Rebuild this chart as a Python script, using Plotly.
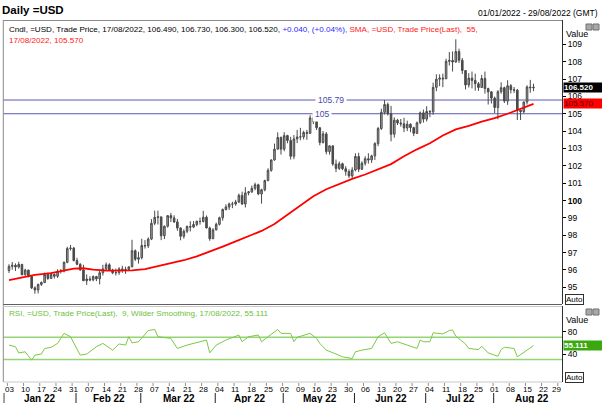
import plotly.graph_objects as go
import pandas as pd

W, H = 602, 403
def px(x): return x / W
def py(y): return 1 - y / H

# ---------------- data ----------------
dates = pd.bdate_range("2022-01-03", "2022-08-17")

opens = [95.97, 96.21, 96.27, 96.17, 96.32, 95.73, 95.99, 95.63, 94.97, 94.85,
         95.17, 95.28, 95.74, 95.51, 95.74, 95.64, 95.92, 95.94, 96.44, 97.23, 97.26,
         96.54, 96.33, 96.00, 95.38, 95.48, 95.43, 95.62, 95.49, 95.84, 96.06,
         96.30, 96.00, 95.84, 95.85, 96.06, 96.01, 96.03, 96.18, 97.11, 96.62,
         96.71, 97.41, 97.39, 97.78, 98.69, 99.03, 99.06, 97.97, 98.52, 99.13,
         99.00, 98.77, 98.42, 97.94, 98.23, 98.50, 98.47, 98.62, 98.80, 98.79,
         99.04, 98.42, 97.80,
         98.31, 98.63, 99.01, 99.48, 99.63, 99.80, 99.80, 99.92, 100.30, 99.80,
         100.44, 100.50, 100.70, 100.91, 100.38, 100.62, 101.15, 101.74, 102.34, 102.96, 103.63,
         102.96, 103.74, 103.46, 102.55, 103.55, 103.66, 103.67, 103.92, 103.87, 104.76,
         104.56, 104.19, 103.34, 103.84, 102.82, 103.15, 102.10, 101.85, 102.12, 101.83,
         101.67, 101.42,
         101.76, 102.54, 101.80, 102.15, 102.41, 102.34, 102.57, 103.28, 104.15, 105.08,
         105.53, 105.00, 103.82, 104.63, 104.47, 104.42, 104.18, 104.40, 104.20, 103.87,
         104.48, 105.05,
         104.69, 105.13, 105.11, 106.52, 106.99, 107.05, 107.01, 108.02, 108.07, 107.98,
         108.58, 108.08, 107.49, 106.66, 107.05, 106.92, 106.73, 106.51, 107.03, 106.45, 106.26,
         105.90, 105.36, 106.27, 106.50, 105.73, 106.61, 106.38, 106.36, 105.20, 105.12,
         105.68, 106.54, 106.49]
highs = [96.33, 96.46, 96.38, 96.47, 96.35, 96.07, 96.02, 95.70, 95.06, 95.21,
         95.34, 95.85, 95.85, 95.86, 95.80, 96.04, 96.05, 96.49, 97.34, 97.44, 97.33,
         96.70, 96.39, 96.30, 95.74, 95.64, 95.69, 95.66, 96.03, 96.30, 96.43,
         96.39, 96.07, 96.08, 96.16, 96.24, 96.19, 96.20, 97.74, 97.18, 97.05,
         97.80, 97.72, 97.88, 98.93, 99.42, 99.42, 99.06, 98.56, 99.16, 99.29,
         99.15, 98.94, 98.45, 98.34, 98.57, 98.81, 98.82, 98.85, 99.02, 99.41,
         99.14, 98.50, 98.41,
         98.73, 99.07, 99.54, 99.78, 99.88, 99.93, 100.04, 100.40, 100.51, 100.77,
         100.55, 100.86, 101.03, 100.97, 100.68, 101.20, 101.86, 102.36, 103.28, 103.93, 103.69,
         103.94, 103.79, 103.67, 103.77, 104.07, 104.19, 104.02, 104.07, 104.92, 105.01,
         104.72, 104.24, 104.00, 103.95, 103.17, 103.16, 102.36, 102.25, 102.18, 101.98,
         101.80, 101.92,
         102.72, 102.75, 102.26, 102.55, 102.72, 102.64, 103.36, 104.24, 105.29, 105.79,
         105.65, 105.45, 104.79, 104.70, 104.70, 104.77, 104.60, 104.44, 104.25, 104.55,
         105.13, 105.24,
         105.43, 105.21, 106.79, 107.27, 107.27, 107.31, 108.17, 108.56, 108.59, 109.29,
         108.75, 108.21, 107.52, 107.34, 107.43, 107.31, 106.83, 107.24, 107.43, 106.50, 106.31,
         105.99, 106.36, 106.81, 106.56, 106.93, 106.71, 106.54, 106.43, 105.22, 105.70,
         106.64, 106.95, 106.73]
lows = [95.83, 96.02, 95.94, 96.08, 95.69, 95.67, 95.57, 94.90, 94.63, 94.65,
        95.08, 95.24, 95.43, 95.48, 95.51, 95.54, 95.79, 95.86, 96.39, 97.12, 96.50,
        96.27, 95.95, 95.37, 95.14, 95.35, 95.35, 95.36, 95.17, 95.68, 95.96,
        95.94, 95.76, 95.68, 95.72, 95.84, 95.78, 95.97, 96.16, 96.52, 96.37,
        96.61, 97.23, 97.27, 97.72, 98.58, 98.62, 97.72, 97.78, 98.44, 98.76,
        98.71, 98.26, 97.71, 97.80, 98.12, 98.22, 98.41, 98.52, 98.61, 98.74,
        98.40, 97.68, 97.79,
        98.28, 98.56, 98.84, 99.43, 99.46, 99.56, 99.70, 99.85, 99.75, 99.60,
        100.30, 100.44, 100.59, 100.31, 99.82, 100.53, 101.11, 101.66, 102.29, 102.95, 102.65,
        102.84, 103.30, 102.36, 102.38, 103.31, 103.47, 103.52, 103.50, 103.85, 104.40,
        104.06, 103.18, 103.29, 102.66, 102.65, 102.00, 101.64, 101.76, 101.75, 101.43,
        101.30, 101.29,
        101.68, 101.64, 101.76, 102.01, 102.13, 102.17, 102.34, 103.13, 104.07, 104.96,
        104.90, 103.41, 103.62, 104.35, 104.26, 103.94, 104.00, 103.94, 103.71, 103.83,
        104.40, 104.49,
        104.56, 104.80, 104.94, 106.30, 106.59, 106.53, 107.01, 107.78, 107.43, 107.94,
        107.92, 107.29, 106.40, 106.51, 106.46, 106.33, 106.32, 106.50, 106.16, 105.53, 105.59,
        105.04, 104.68, 106.15, 105.62, 105.51, 106.17, 106.20, 104.64, 104.64, 105.02,
        105.53, 106.21, 106.30]
closes = [96.21, 96.27, 96.17, 96.32, 95.73, 95.99, 95.63, 94.97, 94.85, 95.17,
          95.28, 95.74, 95.51, 95.74, 95.64, 95.92, 95.94, 96.44, 97.23, 97.26, 96.54,
          96.33, 96.00, 95.38, 95.48, 95.43, 95.62, 95.49, 95.84, 96.06, 96.30,
          96.00, 95.84, 95.85, 96.06, 96.01, 96.03, 96.18, 97.11, 96.62, 96.71,
          97.41, 97.39, 97.78, 98.69, 99.03, 99.06, 97.97, 98.52, 99.13, 99.00,
          98.77, 98.42, 97.94, 98.23, 98.50, 98.47, 98.62, 98.80, 98.79, 99.04,
          98.42, 97.80, 98.31,
          98.63, 99.01, 99.48, 99.63, 99.80, 99.80, 99.92, 100.30, 99.80, 100.44,
          100.50, 100.70, 100.91, 100.38, 100.62, 101.15, 101.74, 102.34, 102.96, 103.63, 102.96,
          103.74, 103.46, 102.55, 103.55, 103.66, 103.67, 103.92, 103.87, 104.76, 104.56,
          104.19, 103.34, 103.84, 102.82, 103.15, 102.10, 101.85, 102.12, 101.83, 101.67,
          101.42, 101.76,
          102.54, 101.80, 102.15, 102.41, 102.34, 102.57, 103.28, 104.15, 105.08, 105.53,
          105.00, 103.82, 104.63, 104.47, 104.42, 104.18, 104.40, 104.20, 103.87, 104.48,
          105.05, 104.69,
          105.13, 105.11, 106.52, 106.99, 107.05, 107.01, 108.02, 108.07, 107.98, 108.58,
          108.08, 107.49, 106.66, 107.05, 106.92, 106.73, 106.51, 107.03, 106.45, 106.26, 105.90,
          105.36, 106.27, 106.50, 105.73, 106.61, 106.38, 106.36, 105.20, 105.12, 105.68,
          106.54, 106.50, 106.52]

# SMA(55) (trading-day index, value)
sma_idx = [0, 4, 8, 13, 17, 20, 23, 26, 30, 34, 38, 42, 46, 50, 54, 58, 62, 66, 70, 74,
           78, 82, 86, 90, 94, 98, 102, 106, 110, 114, 118, 122, 126, 130, 134, 138, 142,
           146, 150, 154, 158, 160, 162]
sma_val = [95.42, 95.55, 95.72, 95.82, 95.98, 96.08, 96.10, 96.02, 95.96, 95.97, 95.98,
           96.05, 96.22, 96.40, 96.56, 96.78, 97.05, 97.35, 97.65, 97.95, 98.25, 98.65,
           99.20, 99.75, 100.25, 100.65, 100.95, 101.25, 101.50, 101.80, 102.10, 102.55,
           102.95, 103.30, 103.75, 104.10, 104.30, 104.55, 104.75, 105.00, 105.30, 105.45,
           105.57]

# RSI(9)
rsi_idx = [0, 2, 3, 5, 7, 8, 10, 11, 13, 15, 17, 19, 22, 24, 27, 29, 32, 34, 36, 37, 38,
           40, 43, 45, 46, 48, 50, 52, 55, 59, 61, 62, 64, 67, 69, 71, 72, 74, 77, 78, 80,
           83, 84, 87, 88, 89, 93, 95, 96, 98, 101, 103, 106, 107, 109, 112, 114, 116, 118,
           120, 123, 126, 127, 128, 130, 131, 134, 136, 137, 138, 141, 142, 145, 146, 148,
           151, 152, 153, 156, 157, 160, 162]
rsi_val = [56, 53, 42, 44, 29, 38, 40, 50, 52, 59, 77, 71, 38, 40, 53, 59, 47, 58, 56, 71,
           60, 62, 82, 84, 71, 70, 68, 50, 56, 62, 65, 42, 56, 65, 70, 74, 62, 71, 74, 62,
           71, 84, 77, 77, 62, 70, 77, 68, 59, 47, 40, 35, 32, 44, 47, 50, 71, 78, 59, 62,
           56, 50, 65, 62, 62, 78, 76, 82, 83, 72, 58, 50, 48, 54, 42, 36, 48, 52, 50, 35,
           47, 55.111]

levels = [105.79, 105.0]
level_labels = ["105.79", "105"]
level_label_pos = [99.6, 96.8]
rsi_bands = [70, 30]
price_ticks = list(range(95, 110))
rsi_ticks = [40, 80]
month_names = ["Jan 22", "Feb 22", "Mar 22", "Apr 22", "May 22", "Jun 22", "Jul 22", "Aug 22"]

# ---------------- figure ----------------
n = min(len(dates), len(opens), len(highs), len(lows), len(closes))
idx = list(range(n))
axis_days = pd.bdate_range("2022-01-03", "2022-08-31")
mondays = [i for i, d in enumerate(axis_days) if d.weekday() == 0]
monday_txt = ["%02d" % axis_days[i].day for i in mondays]
month_starts = [i for i, d in enumerate(axis_days) if i == 0 or d.month != axis_days[i - 1].month]
month_starts_end = month_starts[1:] + [len(axis_days)]

XR = [-1.76, 170.8]
FONT = "Arial, Liberation Sans, sans-serif"

fig = go.Figure()
fig.add_trace(go.Candlestick(
    x=idx, open=opens[:n], high=highs[:n], low=lows[:n], close=closes[:n],
    increasing=dict(line=dict(color="#4a4a4a", width=1), fillcolor="#a4a4a4"),
    decreasing=dict(line=dict(color="#4a4a4a", width=1), fillcolor="#4a4a4a"),
    whiskerwidth=0, hoverinfo="skip", xaxis="x", yaxis="y"))
fig.add_trace(go.Scatter(x=sma_idx, y=sma_val, mode="lines",
                         line=dict(color="#ff0000", width=1.8), xaxis="x", yaxis="y",
                         hoverinfo="skip"))
fig.add_trace(go.Scatter(x=rsi_idx, y=rsi_val, mode="lines",
                         line=dict(color="#7cc843", width=1), xaxis="x2", yaxis="y2",
                         hoverinfo="skip"))

shapes = []
for lv in levels:
    shapes.append(dict(type="line", xref="x domain", yref="y", x0=0, x1=1, y0=lv, y1=lv,
                       line=dict(color="#5a5ab0", width=1), layer="below"))
for b in rsi_bands:
    shapes.append(dict(type="line", xref="x2 domain", yref="y2", x0=0, x1=1, y0=b, y1=b,
                       line=dict(color="#96d478", width=1.5), layer="below"))
# panel frame
frame = "#8a8a8a"
shapes += [
    dict(type="line", xref="paper", yref="paper", x0=px(3.3), x1=px(3.3), y0=py(20), y1=py(382),
         line=dict(color=frame, width=1)),
    dict(type="line", xref="paper", yref="paper", x0=px(3.3), x1=px(562), y0=py(20.5), y1=py(20.5),
         line=dict(color=frame, width=1)),
    dict(type="line", xref="paper", yref="paper", x0=px(3.3), x1=px(562), y0=py(304.5), y1=py(304.5),
         line=dict(color="#606060", width=1)),
    dict(type="line", xref="paper", yref="paper", x0=px(3.3), x1=px(562), y0=py(306.5), y1=py(306.5),
         line=dict(color="#c8c8c8", width=1)),
    dict(type="line", xref="paper", yref="paper", x0=px(3.3), x1=px(562), y0=py(382), y1=py(382),
         line=dict(color="#c8c8c8", width=1)),
]
# panel control icons
for yy in (24, 309):
    for xx in (586, 593):
        shapes.append(dict(type="rect", xref="paper", yref="paper", x0=px(xx), x1=px(xx + 6),
                           y0=py(yy), y1=py(yy + 6), line=dict(color="#707070", width=1),
                           fillcolor="#a8a8a8"))
# month separators
for k, ms in enumerate(month_starts):
    xv = XR[0] + 0.2 if k == 0 else ms - 0.3
    shapes.append(dict(type="line", xref="x2", yref="paper", x0=xv, x1=xv, y0=py(393), y1=py(403),
                       line=dict(color="#202020", width=1)))
# day tick marks
for i in mondays:
    shapes.append(dict(type="line", xref="x2", yref="paper", x0=i - 0.5, x1=i - 0.5,
                       y0=py(383), y1=py(386), line=dict(color="#909090", width=1)))

ann = []
def text(x, y, s, size=8, color="black", xanchor="left", bold=False, **kw):
    if bold:
        s = "<b>" + s + "</b>"
    d = dict(x=px(x), y=py(y), xref="paper", yref="paper", text=s, showarrow=False,
             xanchor=xanchor, yanchor="middle", font=dict(size=size, color=color, family=FONT))
    d.update(kw)
    ann.append(d)

text(0, 10, "Daily =USD", size=11.5, bold=True)
text(600, 13, "01/01/2022 - 29/08/2022 (GMT)", size=8.5, xanchor="right")
text(7, 29,
     "Cndl, =USD, Trade Price, 17/08/2022, 106.490, 106.730, 106.300, 106.520, "
     "<span style='color:#2a2aff'>+0.040, (+0.04%),</span>"
     "<span style='color:#ff2020'> SMA, =USD, Trade Price(Last),  55,</span>", size=8.1)
text(7, 40, "17/08/2022, 105.570", size=8.1, color="#ff2020")
text(7, 313, "RSI, =USD, Trade Price(Last),  9, Wilder Smoothing, 17/08/2022, 55.111",
     size=8.1, color="#6cbf3a")
text(564, 34, "Value", size=9)
text(564, 320, "Value", size=9)
text(565, 299, "Auto", size=8, bordercolor="#303030", borderwidth=1, borderpad=0, bgcolor="white")
text(565, 377, "Auto", size=8, bordercolor="#303030", borderwidth=1, borderpad=0, bgcolor="white")

# day labels
for k, (i, t) in enumerate(zip(mondays, monday_txt)):
    if k == len(mondays) - 1:
        ann.append(dict(x=px(556), y=py(389), xref="paper", yref="paper", text=t, showarrow=False,
                        xanchor="center", yanchor="middle",
                        font=dict(size=8, color="black", family=FONT)))
    else:
        ann.append(dict(x=i, y=py(389), xref="x2", yref="paper", text=t, showarrow=False,
                        xanchor="center", yanchor="middle",
                        font=dict(size=8, color="black", family=FONT)))

# level labels
for lv, lab, pos in zip(levels, level_labels, level_label_pos):
    ann.append(dict(x=pos, y=lv, xref="x", yref="y", text=lab, showarrow=False,
                    xanchor="center", yanchor="middle", bgcolor="white", borderpad=2,
                    font=dict(size=8.5, color="#4a4aa8", family=FONT)))

# last value boxes
ann.append(dict(x=px(562.5), y=closes[n - 1], xref="paper", yref="y", text="<b>%.3f</b>" % closes[n - 1],
                showarrow=False, xanchor="left", yanchor="middle", align="left", width=38,
                bgcolor="#000000", borderpad=0, font=dict(size=8, color="white", family=FONT)))
ann.append(dict(x=px(562.5), y=sma_val[-1], xref="paper", yref="y", text="%.3f" % sma_val[-1],
                showarrow=False, xanchor="left", yanchor="middle", align="left", width=38,
                bgcolor="#ff0000", borderpad=0, font=dict(size=8, color="#5a0000", family=FONT)))
ann.append(dict(x=px(562.5), y=rsi_val[-1], xref="paper", yref="y2", text="<b>%.3f</b>" % rsi_val[-1],
                showarrow=False, xanchor="left", yanchor="middle", align="left", width=38,
                bgcolor="#3aa80e", borderpad=0, font=dict(size=8, color="white", family=FONT)))

# month labels
for nm, s0, s1 in zip(month_names, month_starts, month_starts_end):
    c = ((XR[0] if s0 == 0 else s0) + s1) / 2
    ann.append(dict(x=c, y=py(398.5), xref="x2", yref="paper", text="<b>%s</b>" % nm,
                    showarrow=False, xanchor="center", yanchor="middle",
                    font=dict(size=10, color="black", family=FONT)))

fig.update_layout(
    width=W, height=H, margin=dict(l=0, r=0, t=0, b=0),
    paper_bgcolor="white", plot_bgcolor="white", showlegend=False,
    font=dict(family=FONT, size=8, color="black"),
    shapes=shapes, annotations=ann,
    xaxis=dict(domain=[px(3.3), px(562)], range=XR, anchor="y", showticklabels=False,
               showgrid=False, zeroline=False, showline=False, ticks="",
               rangeslider=dict(visible=False)),
    xaxis2=dict(domain=[px(3.3), px(562)], range=XR, anchor="y2", matches="x",
                showticklabels=False, ticks="",
                showgrid=False, zeroline=False, showline=False),
    yaxis=dict(domain=[py(304), py(20)], range=[94.04, 110.4], anchor="x", side="right",
               tickmode="array", tickvals=price_ticks,
               ticktext=["<b>100</b>" if t == 100 else str(t) for t in price_ticks],
               ticks="outside", ticklen=3, tickcolor="black",
               tickfont=dict(size=8.5, family=FONT, color="black"),
               showline=True, linecolor="#303030", linewidth=1, showgrid=False, zeroline=False),
    yaxis2=dict(domain=[py(382), py(306)], range=[-10.1, 126], anchor="x2", side="right",
                tickmode="array", tickvals=rsi_ticks, ticktext=[str(t) for t in rsi_ticks],
                ticks="outside", ticklen=3, tickcolor="black",
                tickfont=dict(size=8.5, family=FONT, color="black"),
                showline=True, linecolor="#303030", linewidth=1, showgrid=False, zeroline=False),
)

fig.write_html("out.html")
